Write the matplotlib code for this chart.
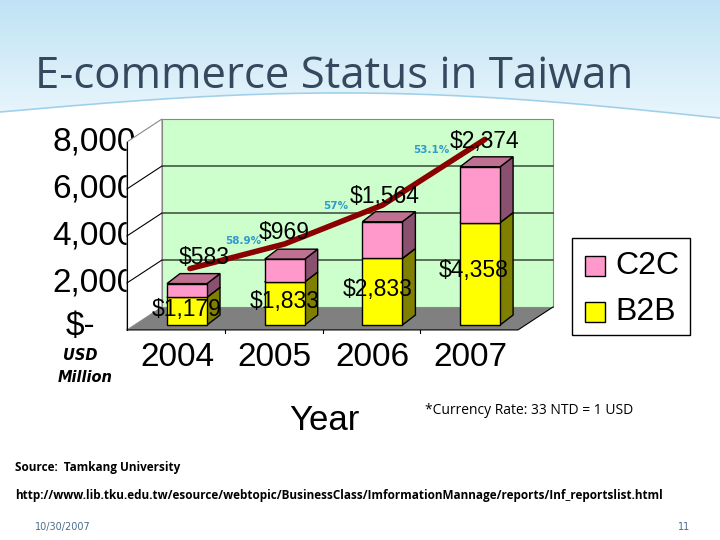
import matplotlib.pyplot as plt
import numpy as np
from matplotlib.patches import Polygon, Rectangle

years = ['2004', '2005', '2006', '2007']
b2b = [1179, 1833, 2833, 4358]
c2c = [583, 969, 1564, 2374]
growth = ['58.9%', '57%', '53.1%']
trend = [2400, 3450, 5100, 7900]
yticks = [8000, 6000, 4000, 2000]

W, H = 720, 540
fig = plt.figure(figsize=(7.2, 5.4), dpi=100)

# slide background with blue header
bg = fig.add_axes([0, 0, 1, 1])
bg.set_xlim(0, W); bg.set_ylim(H, 0); bg.axis('off')
xs = np.linspace(0, W, 200)
edge = 112 - 22 * np.sin(xs / W * np.pi) + 6 * (xs / W)
grad = np.linspace(0, 1, 100).reshape(-1, 1)
bg.imshow(grad, extent=[0, W, 120, 0], cmap=plt.matplotlib.colors.LinearSegmentedColormap.from_list(
    'h', ['#bfe3f5', '#eaf6fc']), aspect='auto', zorder=0)
bg.fill_between(xs, edge, 125, color='white', zorder=1)
bg.plot(xs, edge, color='#9fd0ea', lw=1.2, zorder=2)
bg.text(35, 88, 'E-commerce Status in Taiwan', fontsize=31.5, color='#34495e',
        family='Open Sans', va='baseline')

# chart geometry: pixel based axes
L, R, T, B = 120, 570, 115, 335
ax = fig.add_axes([L / W, 1 - B / H, (R - L) / W, (B - T) / H])
xpx = 97.7
ypx = 23.5 / 1000
ax.set_xlim((L - 187) / xpx, (R - 187) / xpx)
ax.set_ylim((325 - B) / ypx, (325 - T) / ypx)
ax.axis('off')

wx0 = (127 - 187) / xpx
wx1 = (518 - 187) / xpx
wdx = 35 / xpx
wdy = 766
fy = -210

ax.add_patch(Polygon([(wx0, fy), (wx1, fy), (wx1 + wdx, wdy), (wx0 + wdx, wdy)],
                     facecolor='#808080', edgecolor='none', zorder=1))
ax.add_patch(Rectangle((wx0 + wdx, wdy), wx1 - wx0, 8000, facecolor='#ccffcc',
                       edgecolor='#888888', lw=0.8, zorder=1))
ax.add_patch(Polygon([(wx0, fy), (wx0 + wdx, wdy), (wx0 + wdx, wdy + 8000), (wx0, fy + 8000)],
                     facecolor='white', edgecolor='#888888', lw=0.8, zorder=1))
for v in [2000, 4000, 6000]:
    ax.plot([wx0, wx0 + wdx, wx1 + wdx], [fy + v, wdy + v, wdy + v], color='black', lw=0.8, zorder=2)
ax.plot([wx0, wx0], [fy, fy + 8000], color='black', lw=0.8, zorder=2)
ax.plot([wx0, wx1, wx1 + wdx], [fy, fy, wdy], color='black', lw=0.8, zorder=2)
for i in range(1, 4):
    xt = wx0 + (wx1 - wx0) * i / 4
    ax.plot([xt, xt], [fy, fy - 150], color='black', lw=0.8, zorder=2)

bw = 40 / xpx
bdx = 13 / xpx
bdy = 425

def box(x, y0, h, front, top, side):
    xl = x - bw / 2
    ax.add_patch(Polygon([(xl + bw, y0), (xl + bw + bdx, y0 + bdy), (xl + bw + bdx, y0 + h + bdy), (xl + bw, y0 + h)],
                         facecolor=side, edgecolor='black', lw=1, zorder=4))
    ax.add_patch(Polygon([(xl, y0 + h), (xl + bw, y0 + h), (xl + bw + bdx, y0 + h + bdy), (xl + bdx, y0 + h + bdy)],
                         facecolor=top, edgecolor='black', lw=1, zorder=4))
    ax.add_patch(Rectangle((xl, y0), bw, h, facecolor=front, edgecolor='black', lw=1, zorder=4))

for i in range(4):
    box(i, 0, b2b[i], '#ffff00', '#ffff00', '#808000')
    box(i, b2b[i], c2c[i], '#ff99cc', '#c07090', '#8a5070')

ax.plot([0.03, 1, 2, 3.05], trend, color='#8b0000', lw=4, solid_capstyle='round',
        solid_joinstyle='round', zorder=6)

lab = dict(fontsize=16.5, family='Liberation Sans', ha='center', va='center', zorder=7)
c2c_pos = [(0.18, 2880), (1.0, 3950), (2.02, 5480), (3.05, 7820)]
b2b_pos = [(0.0, 680), (1.0, 1020), (1.95, 1490), (2.93, 2330)]
for i in range(4):
    ax.text(*c2c_pos[i], f'${c2c[i]:,}', **lab)
    ax.text(*b2b_pos[i], f'${b2b[i]:,}', **lab)
gpos = [(0.58, 3560), (1.52, 5060), (2.5, 7430)]
for g, p in zip(growth, gpos):
    ax.text(*p, g, fontsize=7.5, weight='bold', color='#3399cc', ha='center', va='center', zorder=7)

# tick labels and text on slide
for v in yticks:
    bg.text(136, 325 - v * ypx + 5, f'{v:,}', fontsize=24, family='Liberation Sans', ha='right', va='center',
            zorder=5, bbox=dict(facecolor='white', edgecolor='none', pad=0))
bg.text(80, 327, '$-', fontsize=24, family='Liberation Sans', ha='center', va='center')
for i, y in enumerate(years):
    bg.text(187 + xpx * i - 10, 358, y, fontsize=24, family='Liberation Sans', ha='center', va='center')
bg.text(80, 355, 'USD', fontsize=10.5, style='italic', weight='bold', ha='center', va='center')
bg.text(85, 378, 'Million', fontsize=10.5, style='italic', weight='bold', ha='center', va='center')
bg.text(324, 420, 'Year', fontsize=25, family='Liberation Sans', ha='center', va='center')

# legend
bg.add_patch(Rectangle((572, 238), 118, 97, facecolor='white', edgecolor='black', lw=1))
bg.add_patch(Rectangle((585, 256), 20, 20, facecolor='#ff99cc', edgecolor='black', lw=1))
bg.add_patch(Rectangle((585, 302), 20, 20, facecolor='#ffff00', edgecolor='black', lw=1))
bg.text(615, 266, 'C2C', fontsize=23, family='Liberation Sans', va='center')
bg.text(615, 312, 'B2B', fontsize=23, family='Liberation Sans', va='center')

bg.text(425, 410, '*Currency Rate: 33 NTD = 1 USD', fontsize=10, family='Open Sans', va='center')
bg.text(15, 467, 'Source:  Tamkang University', fontsize=8.5, weight='bold', family='Open Sans', va='center')
bg.text(15, 496, 'http://www.lib.tku.edu.tw/esource/webtopic/BusinessClass/ImformationMannage/reports/Inf_reportslist.html',
        fontsize=8.5, weight='bold', family='Open Sans', va='center')
bg.text(35, 527, '10/30/2007', fontsize=7, color='#4a6a8a', va='center')
bg.text(678, 527, '11', fontsize=7, color='#4a6a8a', va='center')

fig.savefig('out.png', dpi=100)
